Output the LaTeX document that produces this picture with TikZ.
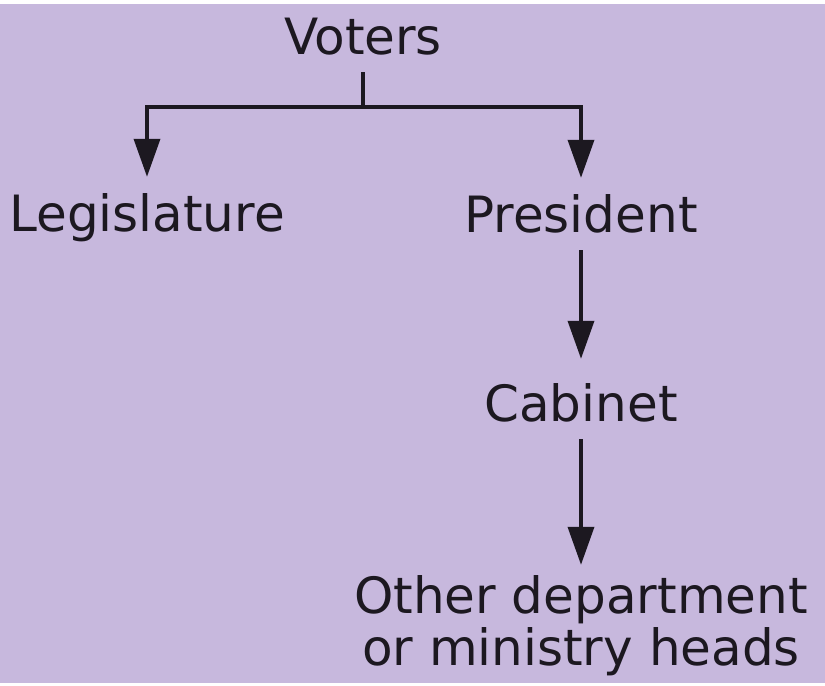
\documentclass[tikz,border=0pt]{standalone}
\usepackage{fontspec}
\setmainfont{DejaVu Sans}
\usetikzlibrary{arrows.meta,positioning}
\definecolor{bgpurple}{RGB}{199,184,221}
\definecolor{inkdark}{RGB}{28,24,32}
\begin{document}
\begin{tikzpicture}[x=1pt,y=-1pt,
	lbl/.style={font=\fontsize{50}{52}\selectfont,text=inkdark,inner xsep=0pt,inner ysep=18pt},
	oneline/.style={lbl,text height=36pt,text depth=0pt},
	link/.style={draw=inkdark,line width=3.6pt},
	arr/.style={link,-{Triangle[width=26pt,length=38pt]}}]
	\fill[bgpurple] (0,0) rectangle (825,679);
	\node[oneline,anchor=base] (voters) at (363,50) {Voters};
	\node[oneline,anchor=base] (legis) at (147,227) {Legislature};
	\node[oneline,anchor=base] (pres) at (581,228) {President};
	\node[oneline,anchor=base] (cab) at (581,417) {Cabinet};
	\node[lbl,align=center,anchor=base,inner ysep=10pt] (heads) at (581,661) {Other department\\or ministry heads};
	\coordinate (split) at (363,103);
	%\coordinate (split) at ($(voters.south)+(0,33)$)
	\draw[link] (voters.south) -- (split);
	\draw[arr] (split) -| (legis.north);
	\draw[arr] (split) -| (pres.north);
	\draw[arr,shorten >=8pt] (pres) -- (cab);
	\draw[arr] (cab) -- (heads.north);
\end{tikzpicture}
\end{document}
